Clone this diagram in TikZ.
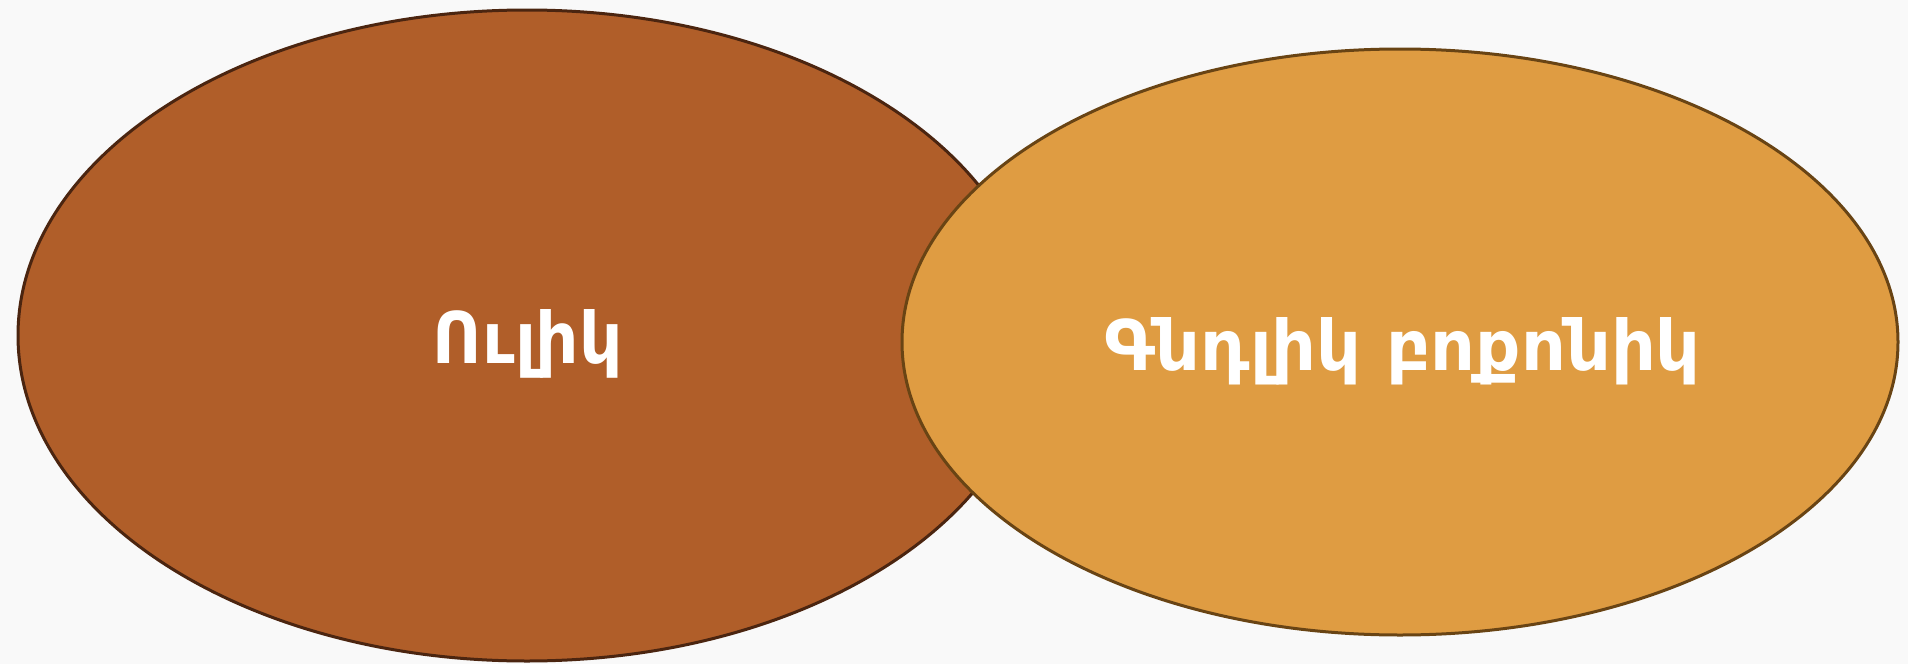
\documentclass[tikz,border=0pt]{standalone}
\usepackage{graphicx}
\usepackage{fontspec}
\newfontfamily\armfont{DejaVu Sans Condensed}
\usetikzlibrary{shapes.geometric,positioning}
\definecolor{paperbg}{HTML}{F9F9F9}
\definecolor{ulikfill}{HTML}{B05E29}
\definecolor{ulikline}{HTML}{4B2510}
\definecolor{gndfill}{HTML}{DF9C42}
\definecolor{gndline}{HTML}{694414}
\tikzset{
  vennset/.style={ellipse,inner sep=0pt,outer sep=0pt,line width=1.5pt},
  vennlabel/.style={anchor=base,inner sep=0pt,text=white,font=\armfont\bfseries\fontsize{34}{40}\selectfont},
}
\begin{document}
\begin{tikzpicture}[x=0.5pt,y=-0.5pt]
				%\draw[color=gray,step=50, help lines,opacity=0.3] (0,0) grid (1908,664); %help grids
				\fill[paperbg] (0,0) rectangle (1908,664);
				\useasboundingbox (0,0) rectangle (1908,664);
				\node[vennset,fill=ulikfill,draw=ulikline,minimum width=509pt,minimum height=325.5pt] (ulik) at (527,335.5) {};
				\node[vennset,fill=gndfill,draw=gndline,minimum width=498pt,minimum height=293pt] (gndlik) at (1400,342) {};
				\node[vennlabel] (ulik-txt) at (528,363) {\resizebox{95pt}{27pt}{Ուլիկ}};
				\node[vennlabel] (gndlik-txt) at (1403,370) {\resizebox{298pt}{26.5pt}{Գնդլիկ բոքոնիկ}};
\end{tikzpicture}
\end{document}
